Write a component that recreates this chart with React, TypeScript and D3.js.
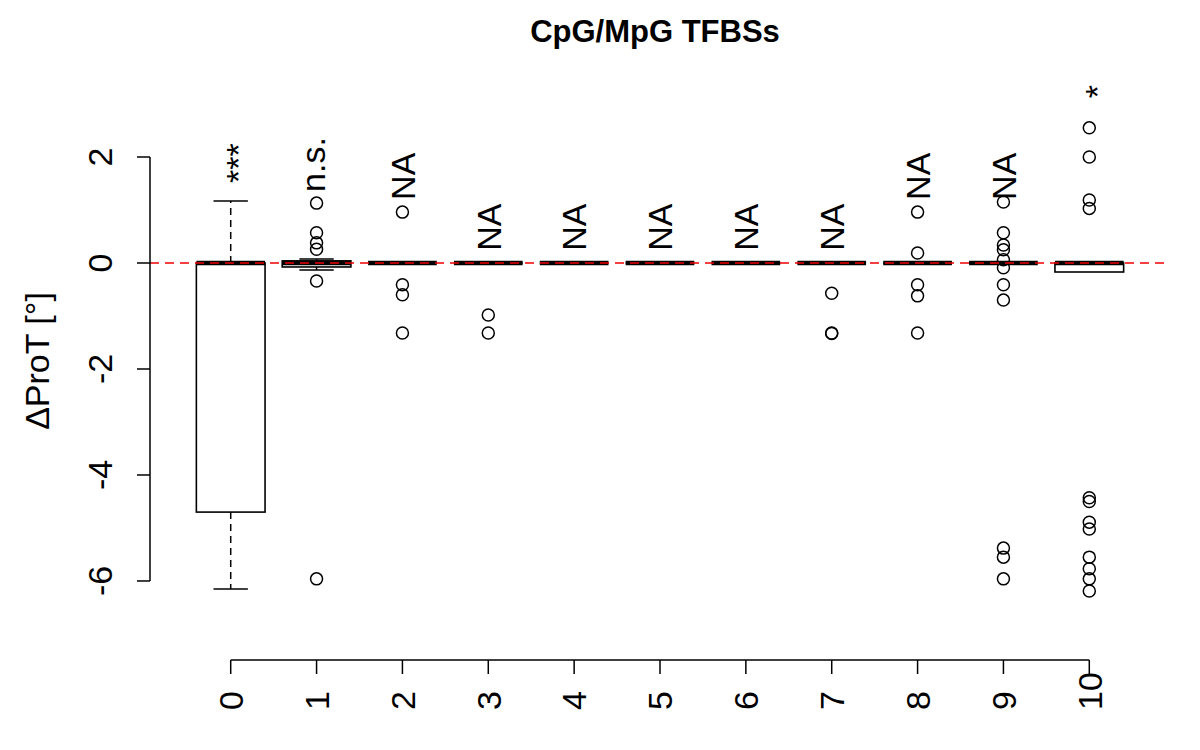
import React from "react";
import * as d3 from "d3";

const categories = ["0", "1", "2", "3", "4", "5", "6", "7", "8", "9", "10"];
const whiskerLow = [-6.15, -0.13, 0, 0, 0, 0, 0, 0, 0, 0, -0.17];
const q1 = [-4.7, -0.075, 0, 0, 0, 0, 0, 0, 0, 0, -0.17];
const median = [0, 0, 0, 0, 0, 0, 0, 0, 0, 0, 0];
const q3 = [0, 0.04, 0, 0, 0, 0, 0, 0, 0, 0, 0];
const whiskerHigh = [1.17, 0.075, 0, 0, 0, 0, 0, 0, 0, 0, 0];
const outliers: number[][] = [
  [],
  [1.13, 0.57, 0.38, 0.26, -0.34, -5.96],
  [0.96, -0.41, -0.6, -1.32],
  [-0.98, -1.32],
  [],
  [],
  [],
  [-0.57, -1.32, -1.33],
  [0.96, 0.19, -0.41, -0.62, -1.32],
  [1.15, 0.57, 0.34, 0.25, 0.06, -0.09, -0.41, -0.7, -5.38, -5.55, -5.96],
  [2.55, 2.0, 1.19, 1.03, -4.43, -4.5, -4.89, -5.02, -5.55, -5.77, -5.96, -6.19],
];
const sigLabels = ["***", "n.s.", "NA", "NA", "NA", "NA", "NA", "NA", "NA", "NA", "*"];
const sigLabelY = [1.51, 1.34, 1.19, 0.23, 0.23, 0.23, 0.23, 0.23, 1.19, 1.19, 3.11];
const yTicks = [-6, -4, -2, 0, 2];
const title = "CpG/MpG TFBSs";
const yLabel = "ΔProT [°]";

const FONT = "'Liberation Sans', Arial, Helvetica, sans-serif";

// vertical ink-centre of rotated label glyphs (em)
function inkCenter(s: string): number {
  if (/^\*+$/.test(s)) return 0.58;
  if (/^[a-z.]+$/.test(s)) return 0.26;
  return 0.36;
}

export default function App() {
  const W = 1200;
  const H = 750;
  const x = d3.scaleLinear().domain([-0.94, 10.94]).range([150, 1170]);
  const y = d3.scaleLinear().domain([-6.54, 2.9]).range([609.6, 109.3]);
  const step = x(1) - x(0);
  const boxW = 0.8 * step;
  const capW = 0.5 * boxW;
  const xAxisY = 660;
  const fs = 34;

  return (
    <svg
      width={W}
      height={H}
      style={{ position: "absolute", left: 0, top: 0, background: "#fff" }}
      fontFamily={FONT}
    >
      <rect x={0} y={0} width={W} height={H} fill="#fff" />
      {/* Title */}
      <text x={655} y={42} textAnchor="middle" fontWeight="bold" fontSize={31}>
        {title}
      </text>

      {/* Boxes */}
      {categories.map((c, i) => {
        const cx = x(i);
        const hasBox = q3[i] !== q1[i];
        return (
          <g key={c}>
            {/* upper whisker */}
            {whiskerHigh[i] > q3[i] && (
              <>
                <line x1={cx} x2={cx} y1={y(q3[i])} y2={y(whiskerHigh[i])} stroke="#000" strokeWidth={1.5} strokeDasharray="7,5" />
                <line x1={cx - capW / 2} x2={cx + capW / 2} y1={y(whiskerHigh[i])} y2={y(whiskerHigh[i])} stroke="#000" strokeWidth={1.5} />
              </>
            )}
            {whiskerLow[i] < q1[i] && (
              <>
                <line x1={cx} x2={cx} y1={y(q1[i])} y2={y(whiskerLow[i])} stroke="#000" strokeWidth={1.5} strokeDasharray="7,5" />
                <line x1={cx - capW / 2} x2={cx + capW / 2} y1={y(whiskerLow[i])} y2={y(whiskerLow[i])} stroke="#000" strokeWidth={1.5} />
              </>
            )}
            {hasBox ? (
              <rect x={cx - boxW / 2} y={y(q3[i])} width={boxW} height={y(q1[i]) - y(q3[i])} fill="#fff" stroke="#000" strokeWidth={1.6} />
            ) : (
              <line x1={cx - boxW / 2} x2={cx + boxW / 2} y1={y(q1[i])} y2={y(q1[i])} stroke="#000" strokeWidth={1.6} />
            )}
            <line x1={cx - boxW / 2} x2={cx + boxW / 2} y1={y(median[i])} y2={y(median[i])} stroke="#000" strokeWidth={4.5} />
            {outliers[i].map((v, j) => (
              <circle key={j} cx={cx} cy={y(v)} r={6} fill="none" stroke="#000" strokeWidth={1.5} />
            ))}
          </g>
        );
      })}

      {/* Reference line at 0 */}
      <line x1={x(-0.94)} x2={x(10.94)} y1={y(0)} y2={y(0)} stroke="#ee0000" strokeWidth={1.5} strokeDasharray="9,6" />

      {/* Significance labels */}
      {categories.map((c, i) => (
        <g key={"l" + c} transform={`translate(${x(i)},${y(sigLabelY[i])}) rotate(-90)`}>
          <text x={0} y={0} dy={`${inkCenter(sigLabels[i])}em`} textAnchor="start" fontSize={fs}>
            {sigLabels[i]}
          </text>
        </g>
      ))}

      {/* Y axis */}
      <line x1={150} x2={150} y1={y(yTicks[0])} y2={y(yTicks[yTicks.length - 1])} stroke="#000" strokeWidth={1.5} />
      {yTicks.map((t) => (
        <g key={"yt" + t}>
          <line x1={137} x2={150} y1={y(t)} y2={y(t)} stroke="#000" strokeWidth={1.5} />
          <g transform={`translate(112,${y(t)}) rotate(-90)`}>
            <text x={0} y={0} textAnchor="middle" fontSize={fs}>
              {t}
            </text>
          </g>
        </g>
      ))}
      <g transform={`translate(49,361) rotate(-90)`}>
        <text x={0} y={0} textAnchor="middle" fontSize={fs}>
          {yLabel}
        </text>
      </g>

      {/* X axis */}
      <line x1={x(0)} x2={x(categories.length - 1)} y1={xAxisY} y2={xAxisY} stroke="#000" strokeWidth={1.5} />
      {categories.map((c, i) => (
        <g key={"xt" + c}>
          <line x1={x(i)} x2={x(i)} y1={xAxisY} y2={xAxisY + 14} stroke="#000" strokeWidth={1.5} />
          <g transform={`translate(${x(i)},710) rotate(-90)`}>
            <text x={0} y={0} dy="0.36em" textAnchor="start" fontSize={fs}>
              {c}
            </text>
          </g>
        </g>
      ))}
    </svg>
  );
}
